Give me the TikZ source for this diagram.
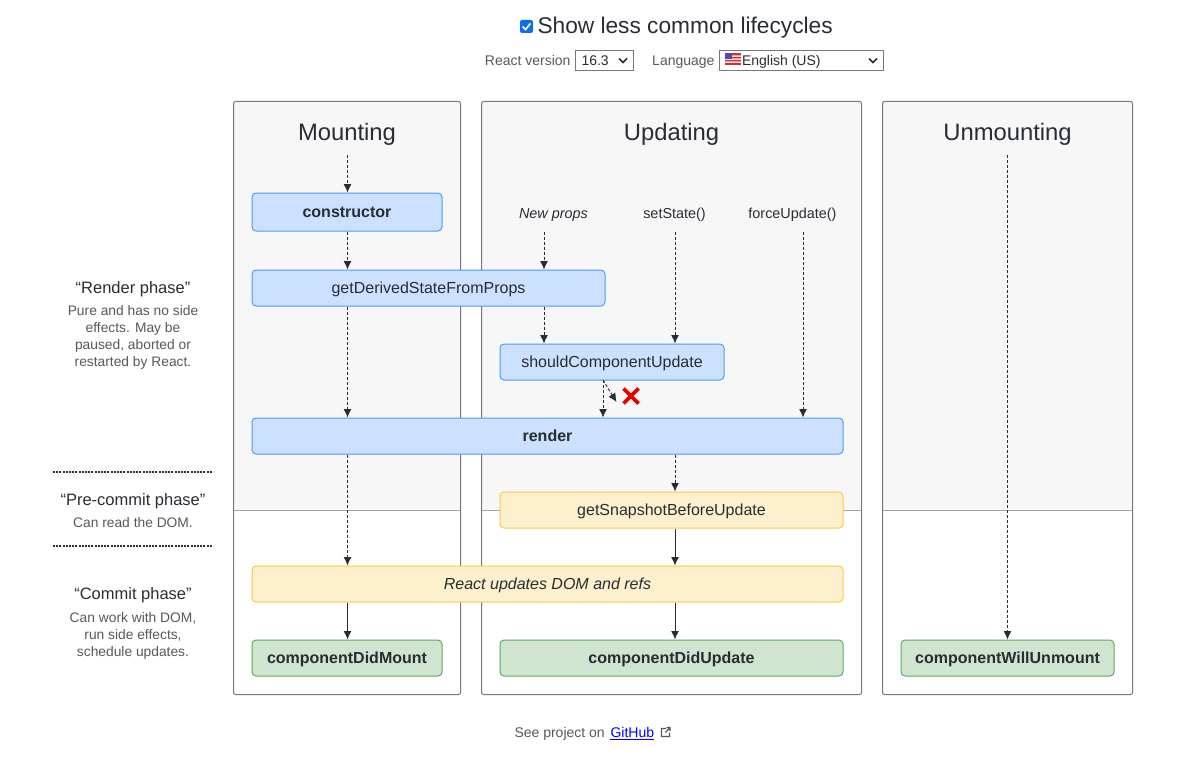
\documentclass[tikz,border=0pt]{standalone}
\usepackage{fontspec}
\setmainfont{Liberation Sans}
\usetikzlibrary{arrows.meta}
\definecolor{myink}{RGB}{40,44,52}
\definecolor{mygrey}{RGB}{85,88,94}
\definecolor{myframe}{RGB}{120,120,120}
\definecolor{mypanel}{RGB}{247,247,247}
\definecolor{mycheck}{RGB}{15,110,240}
\definecolor{myblue}{RGB}{204,224,255}
\definecolor{mybluel}{RGB}{74,156,245}
\definecolor{myyellow}{RGB}{253,240,205}
\definecolor{myyellowl}{RGB}{252,200,74}
\definecolor{mygreen}{RGB}{207,229,207}
\definecolor{mygreenl}{RGB}{92,171,92}
\begin{document}
\begin{tikzpicture}[x=1pt,y=-1pt,line width=1pt,
  frame/.style={draw=myframe,rounded corners=2pt,inner sep=0pt},
  panel/.style={fill=mypanel,rounded corners=2pt},
  lifebox/.style={draw,rounded corners=4pt,inner sep=0pt,text=myink,
    text height=12pt,text depth=1pt,font=\fontsize{16}{18}\selectfont},
  bluebox/.style={lifebox,fill=myblue,draw=mybluel},
  yellowbox/.style={lifebox,fill=myyellow,draw=myyellowl},
  greenbox/.style={lifebox,fill=mygreen,draw=mygreenl},
  title/.style={text=myink,inner sep=0pt,text height=18pt,text depth=1pt,font=\fontsize{23.8}{28}\selectfont},
  trigger/.style={text=myink,inner sep=0pt,font=\fontsize{14.4}{15}\selectfont},
  phase/.style={text=myink,inner sep=0pt,font=\fontsize{16.5}{18}\selectfont},
  phasenote/.style={text=mygrey,inner sep=0pt,align=center,font=\fontsize{13.8}{17}\selectfont},
  dasharr/.style={draw=myink,line width=.9pt,dash pattern=on 3pt off 2pt,
    -{Latex[length=8.5pt,width=8pt,fill=myink]}},
  solidarr/.style={draw=myink,line width=1pt,-{Latex[length=8.5pt,width=8pt]}},
  smalltext/.style={inner sep=0pt,font=\fontsize{14}{16}\selectfont},
  selectbox/.style={draw=myframe,inner sep=0pt,text=myink,font=\fontsize{14}{16}\selectfont},
  chevron/.style={draw=myink,line width=1.5pt}]

  \useasboundingbox (0,0) rectangle (1195,760);

  % top controls
  \fill[fill=mycheck,rounded corners=2pt] (520,20) rectangle (533,33);
  \draw[white,line width=1.6pt] (522.5,26.5) -- (525.5,29.5) -- (530.5,23.5);
  \node[anchor=base west,text=myink,inner sep=0pt,font=\fontsize{22.7}{26}\selectfont] (showless) at (537,33.5) {Show less common lifecycles};
  \node[anchor=base east,text=mygrey,smalltext] (versionlbl) at (571,66) {React version};
  \node[selectbox,minimum width=58pt,minimum height=20pt] (versionsel) at (604,60.5) {};
  \node[anchor=base west,text=myink,smalltext] (versiontxt) at (581,66) {16.3};
  \draw[chevron] (619,58.5) -- (623,62.5) -- (627,58.5);
  \node[anchor=base east,text=mygrey,smalltext] (langlbl) at (715,66) {Language};
  \node[selectbox,minimum width=164pt,minimum height=20pt] (langsel) at (801,60.5) {};
  \node[anchor=base west,text=myink,smalltext] (langtxt) at (741.5,66) {English (US)};
  \fill[red!75!black!80] (725,53.5) rectangle (741,65);
  \fill[white!85!red] (725,55.5) rectangle (741,57) (725,58.5) rectangle (741,60) (725,61.5) rectangle (741,63);
  \fill[blue!55!black!70] (725,53.5) rectangle (732,59);
  \draw[chevron] (869,58.5) -- (873,62.5) -- (877,58.5);

  % the three panels
  \fill[panel] (233.5,510.5) |- (460.5,101.5) -- (460.5,510.5) -- cycle;
  \fill[panel] (481.5,510.5) |- (861.5,101.5) -- (861.5,510.5) -- cycle;
  \fill[panel] (882.5,510.5) |- (1132.5,101.5) -- (1132.5,510.5) -- cycle;
  \draw[black!35] (233.5,510.5) -- (460.5,510.5) (481.5,510.5) -- (861.5,510.5) (882.5,510.5) -- (1132.5,510.5);
  \node[frame,minimum width=227pt,minimum height=593pt] (mountframe) at (347,398) {};
  \node[frame,minimum width=380pt,minimum height=593pt] (updateframe) at (671.5,398) {};
  \node[frame,minimum width=250pt,minimum height=593pt] (unmountframe) at (1007.5,398) {};

  \node[title] (mounting) at (347,131.5) {Mounting};
  \node[title] (updating) at (671.5,131.5) {Updating};
  \node[title] (unmounting) at (1007.5,131.5) {Unmounting};

  \node[trigger] (newprops) at (553.5,215) {\itshape New props};
  \node[trigger] (setstate) at (674.5,215) {setState()};
  \node[trigger] (forceupd) at (792.5,215) {forceUpdate()};

  % lifecycle boxes
  \node[bluebox,minimum width=190pt,minimum height=38pt] (constructor) at (347,212) {\bfseries constructor};
  \node[bluebox,minimum width=353pt,minimum height=36pt] (derived) at (428.5,288) {getDerivedStateFromProps};
  \node[bluebox,minimum width=224pt,minimum height=36pt] (shouldupd) at (612,362) {shouldComponentUpdate};
  \node[bluebox,minimum width=591pt,minimum height=36pt] (render) at (547.5,436) {\bfseries render};
  \node[yellowbox,minimum width=343pt,minimum height=36pt] (snapshot) at (671.5,510) {getSnapshotBeforeUpdate};
  \node[yellowbox,minimum width=591pt,minimum height=36pt] (domrefs) at (547.5,584) {\itshape React updates DOM and refs};
  \node[greenbox,minimum width=190pt,minimum height=36pt] (didmount) at (347,658) {\bfseries componentDidMount};
  \node[greenbox,minimum width=343pt,minimum height=36pt] (didupdate) at (671.5,658) {\bfseries componentDidUpdate};
  \node[greenbox,minimum width=213pt,minimum height=36pt] (willunmount) at (1007.5,658) {\bfseries componentWillUnmount};

  % free ends of the connectors
  \coordinate (mstart) at (347.5,155);
  \coordinate (npstart) at (544,232);
  \coordinate (ssstart) at (675,232);
  \coordinate (fustart) at (803,232);
  \coordinate (ustart) at (1007.5,155);
  \coordinate (scuout) at (603,380);
  \coordinate (scuno) at (616.5,402);

  % mounting column
  \draw[dasharr] (mstart) -- (constructor.north -| mstart);
  \draw[dasharr] (constructor.south -| mstart) -- (derived.north -| mstart);
  \draw[dasharr] (derived.south -| mstart) -- (render.north -| mstart);
  \draw[dasharr] (render.south -| mstart) -- (domrefs.north -| mstart);
  \draw[solidarr] (domrefs.south -| mstart) -- (didmount.north -| mstart);

  % updating column
  \draw[dasharr] (npstart) -- (derived.north -| npstart);
  \draw[dasharr] (derived.south -| npstart) -- (shouldupd.north -| npstart);
  \draw[dasharr] (ssstart) -- (shouldupd.north -| ssstart);
  \draw[dasharr] (fustart) -- (render.north -| fustart);
  \draw[dasharr] (scuout) -- (render.north -| scuout);
  \draw[dasharr] (scuout) -- (scuno);
  \draw[dasharr] (render.south -| ssstart) -- (snapshot.north -| ssstart);
  \draw[solidarr] (snapshot.south -| ssstart) -- (domrefs.north -| ssstart);
  \draw[solidarr] (domrefs.south -| ssstart) -- (didupdate.north -| ssstart);

  % unmounting column
  \draw[dasharr] (ustart) -- (willunmount.north -| ustart);

  % red cross
  \draw[red!90!black,line width=3.6pt] (623.5,388.5) -- (638.5,403.5) (638.5,388.5) -- (623.5,403.5);

  % phases on the left
  \node[phase] (renderph) at (133,289.5) {“Render phase”};
  \node[phasenote] (rendernote) at (133,337.5) {Pure and has no side\\effects. May be\\paused, aborted or\\restarted by React.};
  \node[phase] (precommitph) at (133,501) {“Pre-commit phase”};
  \node[phasenote] (precommitnote) at (133,523) {Can read the DOM.};
  \node[phase] (commitph) at (133,595.5) {“Commit phase”};
  \node[phasenote] (commitnote) at (133,636) {Can work with DOM,\\run side effects,\\schedule updates.};
  \draw[myink,line width=2pt,dash pattern=on 2pt off 1.2pt] (53,472) -- (213,472);
  \draw[myink,line width=2pt,dash pattern=on 2pt off 1.2pt] (53,546) -- (213,546);

  % footer
  \node[anchor=base west,text=mygrey,smalltext] (seeproject) at (514,737) {See project on};
  \node[anchor=base west,text=blue,smalltext] (github) at (610,737) {GitHub};
  \draw[blue,line width=.9pt] (github.south west)++(0,1.5) -- ++(44,0);
  \draw[mygrey,line width=1.2pt] (666,728.5) -- (661.5,728.5) -- (661.5,736.5) -- (669.5,736.5) -- (669.5,732.5) (665.5,732.5) -- (670,727.5) (666.5,727.5) -- (670,727.5) -- (670,731);
\end{tikzpicture}
\end{document}
